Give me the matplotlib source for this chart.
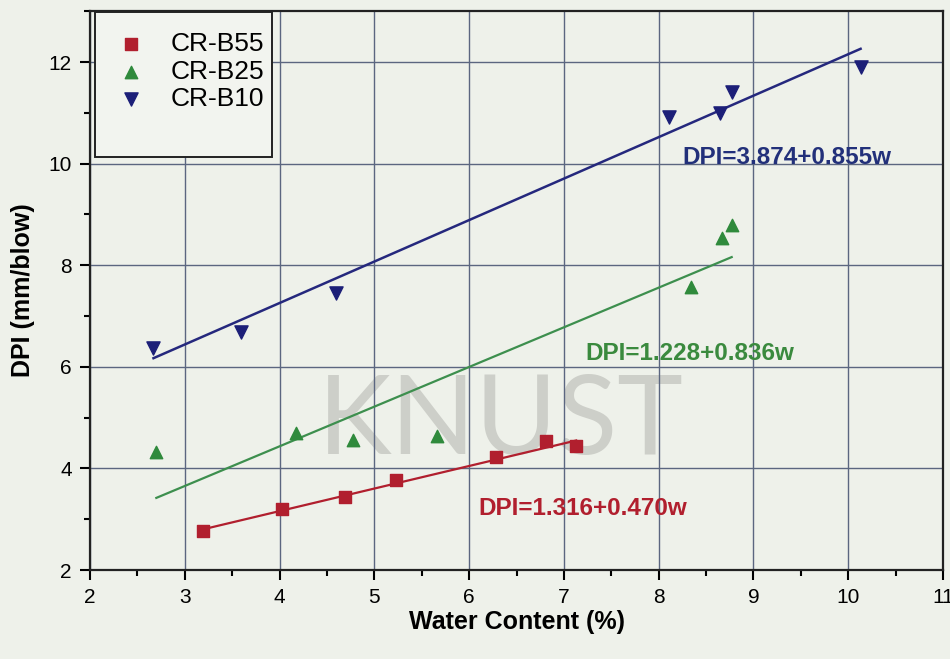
import matplotlib
matplotlib.use("Agg")
import matplotlib.pyplot as plt
from matplotlib.ticker import MultipleLocator
from matplotlib.patches import Rectangle

plt.rcParams['font.family'] = ['Liberation Sans', 'DejaVu Sans']

# data
w_b55 = [3.19, 4.03, 4.69, 5.23, 6.28, 6.81, 7.13]
dpi_b55 = [2.77, 3.20, 3.44, 3.77, 4.22, 4.54, 4.44]

w_b25 = [2.70, 4.17, 4.78, 5.66, 8.34, 8.67, 8.77]
dpi_b25 = [4.32, 4.70, 4.56, 4.64, 7.57, 8.53, 8.79]

w_b10 = [2.67, 3.59, 4.60, 8.11, 8.65, 8.77, 10.13]
dpi_b10 = [6.37, 6.69, 7.45, 10.92, 11.00, 11.41, 11.90]

# fitted lines, end points as drawn
fit_b55_w = [3.19, 7.13]
fit_b55_y = [2.80, 4.55]
fit_b25_w = [2.70, 8.77]
fit_b25_y = [3.42, 8.16]
fit_b10_w = [2.67, 10.13]
fit_b10_y = [6.17, 12.26]

labels = ['CR-B55', 'CR-B25', 'CR-B10']
equations = ['DPI=1.316+0.470w', 'DPI=1.228+0.836w', 'DPI=3.874+0.855w']

red = '#b11f2e'
green = '#2f8a3c'
blue = '#1c1f78'

fig = plt.figure(figsize=(9.5, 6.59), dpi=100, facecolor='#eef1ea')
ax = fig.add_axes([0.0947, 0.135, 0.898, 0.848])
ax.set_facecolor('#eef1ea')

# faint watermark from the scanned page
ax.text(0.482, 0.263, 'KNUST', transform=ax.transAxes, fontsize=80,
        color='#cdcfc9', ha='center', va='center', zorder=0,
        family=['Lato', 'DejaVu Sans'])

ax.plot(fit_b55_w, fit_b55_y, color=red, lw=1.6, zorder=3)
ax.plot(fit_b25_w, fit_b25_y, color='#3d8f4e', lw=1.6, zorder=3)
ax.plot(fit_b10_w, fit_b10_y, color='#25287d', lw=1.8, zorder=3)

ax.scatter(w_b55, dpi_b55, marker='s', s=70, color=red, label=labels[0], zorder=4)
ax.scatter(w_b25, dpi_b25, marker='^', s=80, color=green, label=labels[1], zorder=4)
ax.scatter(w_b10, dpi_b10, marker='v', s=90, color=blue, label=labels[2], zorder=4)

ax.text(6.1, 3.22, equations[0], color=red, fontsize=17.5, fontweight='bold',
        va='center', ha='left')
ax.text(7.23, 6.27, equations[1], color='#3a8a3e', fontsize=17.5, fontweight='bold',
        va='center', ha='left')
ax.text(8.25, 10.12, equations[2], color='#22307a', fontsize=17.5, fontweight='bold',
        va='center', ha='left')

ax.set_xlim(2, 11)
ax.set_ylim(2, 13)
ax.xaxis.set_major_locator(MultipleLocator(1))
ax.xaxis.set_minor_locator(MultipleLocator(0.5))
ax.yaxis.set_major_locator(MultipleLocator(2))
ax.yaxis.set_minor_locator(MultipleLocator(1))
ax.tick_params(which='major', direction='out', length=7, width=1.5, labelsize=15, pad=6)
ax.tick_params(which='minor', direction='out', length=4, width=1.5)
ax.grid(True, which='major', color='#5b6680', lw=1.0, zorder=1)
ax.set_axisbelow(True)
for s in ax.spines.values():
    s.set_linewidth(1.6)
    s.set_color('#222222')

ax.set_xlabel('Water Content (%)', fontsize=18, fontweight='bold', labelpad=2)
ax.set_ylabel('DPI (mm/blow)', fontsize=18, fontweight='bold', labelpad=10)

# legend box is taller than its entries in the original
ax.add_patch(Rectangle((0.006, 0.739), 0.207, 0.259, transform=ax.transAxes,
                       facecolor='#f2f4ef', edgecolor='#222222', lw=1.4, zorder=5))
leg = ax.legend(loc='upper left', bbox_to_anchor=(0.006, 0.998), fontsize=19,
                frameon=False, borderaxespad=0, borderpad=0.75, labelspacing=0.13,
                handlelength=1.2, handletextpad=0.9, scatterpoints=1)
leg.set_zorder(6)

fig.savefig('out.png', dpi=100, facecolor=fig.get_facecolor())
